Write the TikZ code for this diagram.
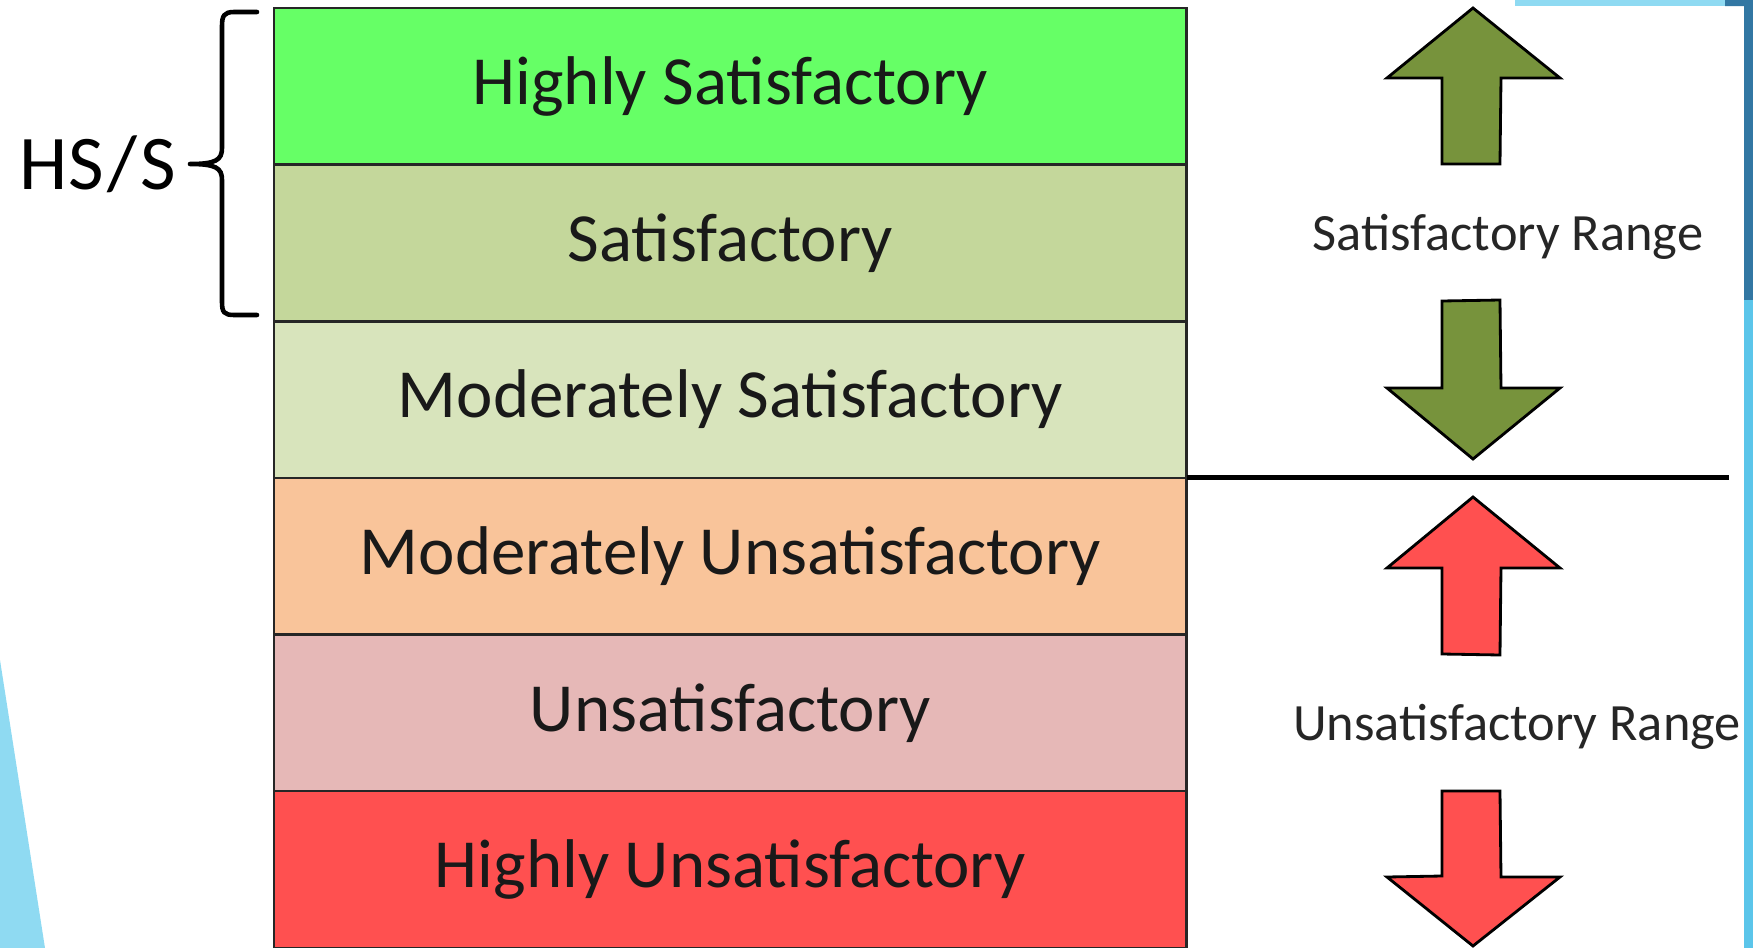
\documentclass[tikz,border=0pt]{standalone}
\usepackage{fontspec}
\setmainfont{Carlito}
\definecolor{hsG}{HTML}{66FF66}
\definecolor{sG}{HTML}{C4D79B}
\definecolor{msG}{HTML}{D8E4BC}
\definecolor{muO}{HTML}{F9C49A}
\definecolor{uP}{HTML}{E6B8B7}
\definecolor{huR}{HTML}{FF5050}
\definecolor{arrG}{HTML}{77933C}
\definecolor{arrR}{HTML}{FF5050}
\definecolor{bgL}{HTML}{8FDAF2}
\definecolor{bgM}{HTML}{5BC5EA}
\definecolor{bgD}{HTML}{3277A3}
\definecolor{txtG}{HTML}{262626}
\tikzset{
  rowbox/.style={draw=black!85, line width=0.7pt, outer sep=0pt, minimum width=9.12cm, minimum height=1.5655cm, inner sep=0pt, font=\fontsize{19.6}{22}\selectfont, text=black!90},
  rangetext/.style={font=\fontsize{14.9}{17}\selectfont, text=txtG, inner sep=0pt},
  bigarrow/.style={draw=black, line width=0.8pt, line join=miter},
}
\begin{document}
\begin{tikzpicture}[x=0.01cm, y=-0.01cm]
\useasboundingbox (0,0) rectangle (1753,948);
% background decorations
\fill[bgL] (0,660) -- (45,948) -- (0,948) -- cycle;
\fill[bgL] (1515,0) -- (1753,0) -- (1753,6) -- (1515,6) -- cycle;
\fill[bgD] (1725,0) -- (1753,0) -- (1753,300) -- (1744,300) -- (1744,6) -- (1725,6) -- cycle;
\fill[bgM] (1744,300) -- (1753,300) -- (1753,948) -- (1744,948) -- cycle;
% rows
\node[rowbox, fill=hsG, anchor=north west] (hs) at (274,8) {Highly Satisfactory};
\node[rowbox, fill=sG, anchor=north] (s) at (hs.south) {Satisfactory};
\node[rowbox, fill=msG, anchor=north] (ms) at (s.south) {Moderately Satisfactory};
\node[rowbox, fill=muO, anchor=north] (mu) at (ms.south) {Moderately Unsatisfactory};
\node[rowbox, fill=uP, anchor=north] (u) at (mu.south) {Unsatisfactory};
\node[rowbox, fill=huR, anchor=north] (hu) at (u.south) {Highly Unsatisfactory};
% brace
\node[font=\fontsize{22}{26}\selectfont, inner sep=0pt] (hss) at (98,164) {HS\kern1pt/\kern1pt S};
\coordinate (btip) at (190,164);
\draw[line width=1.3pt, line cap=round] (257,12) -- (234,12) .. controls (224,12) and (222,16) .. (222,26)
  -- (222,148) .. controls (222,160) and (216,164) .. (btip)
  (btip) .. controls (216,164) and (222,168) .. (222,180)
  -- (222,302) .. controls (222,312) and (224,315) .. (234,315) -- (257,315);
% separator line
\coordinate (sepend) at (1729,477);
\draw[line width=1.4pt] (ms.south east) -- (ms.south east -| sepend);
% arrows
\draw[bigarrow, fill=arrG] (1473,8) -- (1560,78) -- (1501,78) -- (1500,164) -- (1442,164) -- (1442,78) -- (1387,78) -- cycle;
\draw[bigarrow, fill=arrG] (1442,301) -- (1500,300) -- (1501,388) -- (1560,388) -- (1473,459) -- (1387,388) -- (1442,388) -- cycle;
\draw[bigarrow, fill=arrR] (1473,497) -- (1560,568) -- (1501,568) -- (1500,655) -- (1442,654) -- (1442,568) -- (1387,568) -- cycle;
\draw[bigarrow, fill=arrR] (1442,791) -- (1500,791) -- (1501,877) -- (1560,877) -- (1473,946) -- (1387,877) -- (1442,876) -- cycle;
% range labels
\node[rangetext] (srange) at (1508,237) {Satisfactory Range};
\node[rangetext] (urange) at (1517,727) {Unsatisfactory Range};
\end{tikzpicture}
\end{document}
